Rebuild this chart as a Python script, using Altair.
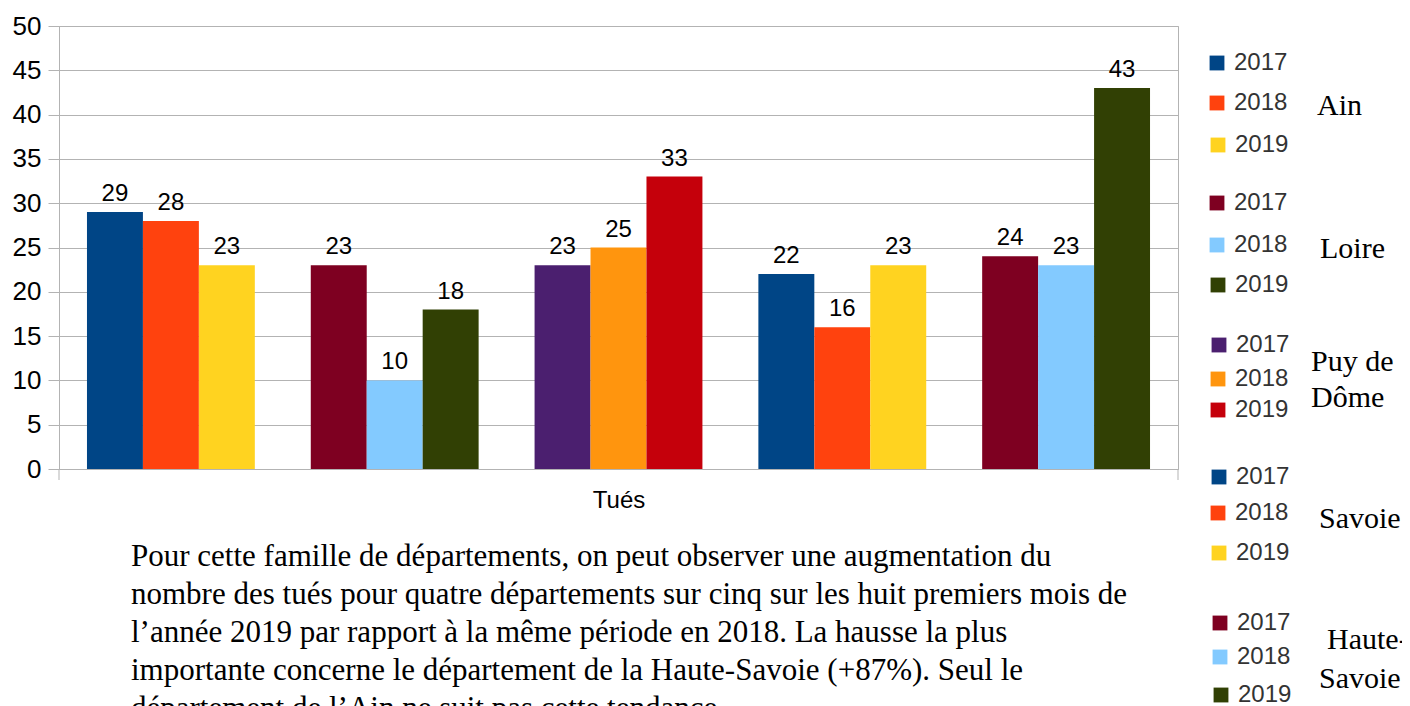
import altair as alt
import pandas as pd

# ---- data ----
departements = ["Ain", "Loire", "Puy de Dôme", "Savoie", "Haute-Savoie"]
annees = ["2017", "2018", "2019"]
tues_2017 = [29, 23, 23, 22, 24]
tues_2018 = [28, 10, 25, 16, 23]
tues_2019 = [23, 18, 33, 23, 43]
couleurs = {
    "Ain": ["#004586", "#ff420e", "#ffd320"],
    "Loire": ["#7e0021", "#83caff", "#314004"],
    "Puy de Dôme": ["#4b1f6f", "#ff950e", "#c5000b"],
    "Savoie": ["#004586", "#ff420e", "#ffd320"],
    "Haute-Savoie": ["#7e0021", "#83caff", "#314004"],
}
y_ticks = [0, 5, 10, 15, 20, 25, 30, 35, 40, 45, 50]
axis_title = "Tués"
paragraphe = [
    "Pour cette famille de départements, on peut observer une augmentation du",
    "nombre des tués pour quatre départements sur cinq sur les huit premiers mois de",
    "l’année 2019 par rapport à la même période en 2018. La hausse la plus",
    "importante concerne le département de la Haute-Savoie (+87%). Seul le",
    "département de l’Ain ne suit pas cette tendance.",
]

# ---- layout (pixels relative to plot area origin) ----
W, H = 1119, 443
legend_sq_x = [1158, 1158, 1159, 1158, 1158, 1159, 1160, 1159, 1159, 1160, 1159, 1160, 1161, 1161, 1162]
legend_y = [37, 77, 119, 177, 219, 259, 319, 353, 384, 451, 487, 527, 597, 631, 669]
dept_labels = [("Ain", 1258, 89), ("Loire", 1261, 232), ("Puy de", 1252, 345),
               ("Dôme", 1252, 381), ("Savoie", 1260, 502), ("Haute-", 1268, 623),
               ("Savoie", 1260, 662)]
para_x = 72
para_y0 = 540
para_step = 38

rows = []
vals = [tues_2017, tues_2018, tues_2019]
for i, d in enumerate(departements):
    for j, a in enumerate(annees):
        rows.append({"dept": d, "annee": a, "key": f"{d}|{a}", "val": vals[j][i]})
df = pd.DataFrame(rows)

keys = [f"{d}|{a}" for d in departements for a in annees]
cols = [couleurs[d][j] for d in departements for j in range(3)]
color_scale = alt.Scale(domain=keys, range=cols)

x = alt.X("dept:N", sort=departements,
          scale=alt.Scale(paddingInner=0.25, paddingOuter=0.125),
          axis=alt.Axis(title=axis_title, labels=False, ticks=False, domain=True,
                        domainColor="#b3b3b3", titleFont="Liberation Sans",
                        titleFontSize=24, titleFontWeight="normal", titleColor="#000",
                        titlePadding=19))
y = alt.Y("val:Q", scale=alt.Scale(domain=[0, 50], nice=False),
          axis=alt.Axis(title=None, values=y_ticks, grid=True, gridColor="#b3b3b3",
                        domainColor="#b3b3b3", tickColor="#b3b3b3", tickSize=11,
                        labelFont="Liberation Sans", labelFontSize=26, labelColor="#000",
                        labelPadding=7))
xo = alt.XOffset("annee:N", sort=annees, scale=alt.Scale(paddingInner=0, paddingOuter=0))

bars = alt.Chart(df).mark_bar().encode(
    x=x, y=y, xOffset=xo,
    color=alt.Color("key:N", scale=color_scale, legend=None),
)
labels = alt.Chart(df).mark_text(baseline="bottom", dy=-6, font="Liberation Sans",
                                  fontSize=24, color="#000").encode(
    x=alt.X("dept:N", sort=departements), y="val:Q", xOffset=xo, text="val:Q")

# end ticks below the x axis
end_ticks = alt.Chart(pd.DataFrame({"px": [0, W]})).mark_rule(color="#b3b3b3").encode(
    x=alt.X("px:Q", scale=None), y=alt.value(H), y2=alt.value(H + 11))

# legend
leg_rows = []
k = 0
for d in departements:
    for j, a in enumerate(annees):
        leg_rows.append({"key": f"{d}|{a}", "annee": a, "lx": legend_sq_x[k], "ly": legend_y[k]})
        k += 1
leg = pd.DataFrame(leg_rows)
leg_sq = alt.Chart(leg).mark_square(size=220, opacity=1).encode(
    x=alt.X("lx:Q", scale=None), y=alt.Y("ly:Q", scale=None),
    color=alt.Color("key:N", scale=color_scale, legend=None))
leg_txt = alt.Chart(leg).mark_text(align="left", baseline="middle", dx=17,
                                   font="Liberation Sans", fontSize=24, color="#333").encode(
    x=alt.X("lx:Q", scale=None), y=alt.Y("ly:Q", scale=None), text="annee:N")
dl = pd.DataFrame([{"t": t, "lx": lx, "ly": ly} for t, lx, ly in dept_labels])
dept_txt = alt.Chart(dl).mark_text(align="left", baseline="alphabetic",
                                   font="Liberation Serif", fontSize=30, color="#000").encode(
    x=alt.X("lx:Q", scale=None), y=alt.Y("ly:Q", scale=None), text="t:N")

# paragraph
pr = pd.DataFrame([{"t": t, "px": para_x, "py": para_y0 + i * para_step}
                   for i, t in enumerate(paragraphe)])
para = alt.Chart(pr).mark_text(align="left", baseline="alphabetic",
                               font="Liberation Serif", fontSize=31, color="#000").encode(
    x=alt.X("px:Q", scale=None), y=alt.Y("py:Q", scale=None), text="t:N")

chart = alt.layer(bars, labels, end_ticks, leg_sq, leg_txt, dept_txt, para).properties(
    width=W, height=H,
    padding={"left": 51, "top": 18, "right": 224, "bottom": 237},
    autosize=alt.AutoSizeParams(type="none"),
    background="white",
).configure_view(stroke="#b3b3b3", strokeWidth=1)

chart.save("out.html", embed_options={"renderer": "svg", "actions": False})
